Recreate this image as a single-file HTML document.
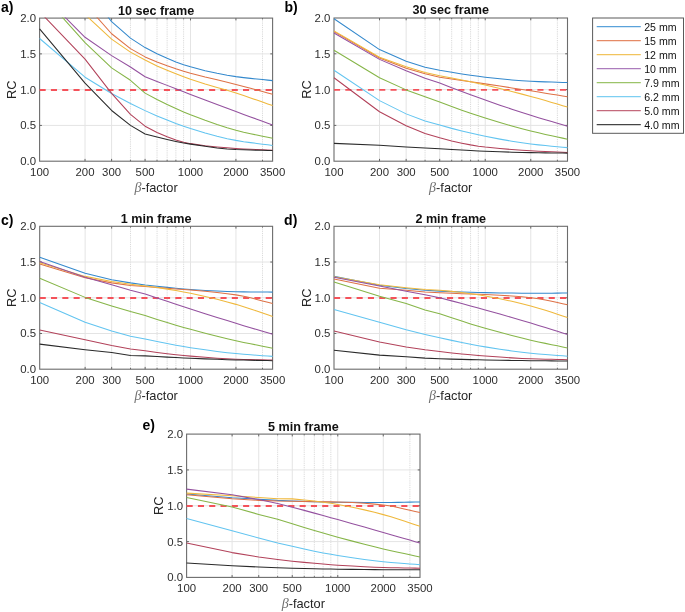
<!DOCTYPE html>
<html><head><meta charset="utf-8"><style>
html,body{margin:0;padding:0;background:#fff;}
body{width:685px;height:612px;overflow:hidden;}
svg{display:block;font-family:"Liberation Sans",sans-serif;}
svg{will-change:transform;}
.gmaj{stroke:#e4e4e4;stroke-width:1;}
.gmin{stroke:#d0d0d0;stroke-width:0.8;stroke-dasharray:1.2 1;}
.cv{fill:none;stroke-width:1.05;stroke-linejoin:round;}
.ref{stroke:#f4525a;stroke-width:1.9;stroke-dasharray:6.1 5.2;}
.tick{stroke:#555;stroke-width:0.9;fill:none;}
.box{fill:none;stroke:#6c6c6c;stroke-width:1.1;}
.tl{font-size:11.4px;fill:#2e2e2e;}
.al{font-size:12.8px;fill:#262626;}
.beta{font-family:"Liberation Serif",serif;font-style:italic;fill:#707070;font-size:14px;}
.ti{font-size:12.6px;font-weight:bold;fill:#111;}
.pl{font-size:14px;font-weight:bold;fill:#000;}
.lbox{fill:#fff;stroke:#5a5a5a;stroke-width:1;}
.lcv{stroke-width:1.1;}
.lt{font-size:10.6px;fill:#111;}
</style></head><body>
<svg width="685" height="612" viewBox="0 0 685 612">
<rect width="685" height="612" fill="#fff"/>
<clipPath id="clipa"><rect x="39.00" y="17.50" width="234.20" height="144.30"/></clipPath>
<line x1="85.03" y1="18.10" x2="85.03" y2="161.20" class="gmaj"/>
<line x1="111.60" y1="18.10" x2="111.60" y2="161.20" class="gmaj"/>
<line x1="145.07" y1="18.10" x2="145.07" y2="161.20" class="gmaj"/>
<line x1="190.50" y1="18.10" x2="190.50" y2="161.20" class="gmaj"/>
<line x1="235.93" y1="18.10" x2="235.93" y2="161.20" class="gmaj"/>
<line x1="130.45" y1="18.10" x2="130.45" y2="161.20" class="gmin"/>
<line x1="157.02" y1="18.10" x2="157.02" y2="161.20" class="gmin"/>
<line x1="167.13" y1="18.10" x2="167.13" y2="161.20" class="gmin"/>
<line x1="175.88" y1="18.10" x2="175.88" y2="161.20" class="gmin"/>
<line x1="183.60" y1="18.10" x2="183.60" y2="161.20" class="gmin"/>
<line x1="262.50" y1="18.10" x2="262.50" y2="161.20" class="gmin"/>
<line x1="39.60" y1="125.42" x2="272.60" y2="125.42" class="gmaj"/>
<line x1="39.60" y1="89.65" x2="272.60" y2="89.65" class="gmaj"/>
<line x1="39.60" y1="53.88" x2="272.60" y2="53.88" class="gmaj"/>
<path d="M85.03,161.20v-2.3M85.03,18.10v2.3M111.60,161.20v-2.3M111.60,18.10v2.3M145.07,161.20v-2.3M145.07,18.10v2.3M190.50,161.20v-2.3M190.50,18.10v2.3M235.93,161.20v-2.3M235.93,18.10v2.3M130.45,161.20v-1.3M130.45,18.10v1.3M157.02,161.20v-1.3M157.02,18.10v1.3M167.13,161.20v-1.3M167.13,18.10v1.3M175.88,161.20v-1.3M175.88,18.10v1.3M183.60,161.20v-1.3M183.60,18.10v1.3M262.50,161.20v-1.3M262.50,18.10v1.3M39.60,125.42h2.3M272.60,125.42h-2.3M39.60,89.65h2.3M272.60,89.65h-2.3M39.60,53.88h2.3M272.60,53.88h-2.3" class="tick"/>
<rect x="39.60" y="18.10" width="233.00" height="143.10" class="box"/>
<g clip-path="url(#clipa)"><line x1="39.60" y1="89.95" x2="272.60" y2="89.95" class="ref"/><polyline points="85.03,-12.67 111.60,21.61 130.45,38.13 145.07,47.59 157.02,53.78 167.13,58.31 175.88,61.91 183.60,64.72 190.50,66.86 205.12,70.68 217.07,73.33 227.17,75.23 235.93,76.61 243.64,77.62 250.55,78.39 256.80,79.02 262.50,79.58 267.74,80.11 272.60,80.62" stroke="#3489cd" class="cv"/><polyline points="85.03,3.79 111.60,33.77 130.45,48.65 145.07,56.90 157.02,62.02 167.13,65.74 175.88,68.72 183.60,71.16 190.50,73.20 205.12,77.04 217.07,79.86 227.17,82.22 235.93,84.39 243.64,86.41 250.55,88.26 256.80,89.95 262.50,91.50 267.74,92.93 272.60,94.24" stroke="#de7146" class="cv"/><polyline points="85.03,14.52 111.60,39.06 130.45,52.16 145.07,59.95 157.02,65.93 167.13,70.31 175.88,73.83 183.60,76.74 190.50,79.20 205.12,83.89 217.07,87.38 227.17,90.34 235.93,93.05 243.64,95.60 250.55,97.95 256.80,100.11 262.50,102.10 267.74,103.92 272.60,105.60" stroke="#efb83c" class="cv"/><polyline points="39.60,-8.37 85.03,37.28 111.60,55.59 130.45,66.97 145.07,76.74 157.02,81.44 167.13,85.38 175.88,88.78 183.60,91.76 190.50,94.41 205.12,99.97 217.07,104.48 227.17,108.27 235.93,111.54 243.64,114.39 250.55,116.92 256.80,119.20 262.50,121.28 267.74,123.19 272.60,124.97" stroke="#94519f" class="cv"/><polyline points="39.60,-8.02 85.03,42.57 111.60,67.90 130.45,80.28 145.07,93.16 157.02,99.44 167.13,104.43 175.88,108.50 183.60,111.93 190.50,114.79 205.12,120.34 217.07,124.56 227.17,127.79 235.93,130.28 243.64,132.19 250.55,133.72 256.80,135.02 262.50,136.18 267.74,137.26 272.60,138.30" stroke="#86b548" class="cv"/><polyline points="39.60,38.49 85.03,77.20 111.60,93.44 130.45,103.53 145.07,110.64 157.02,115.92 167.13,120.07 175.88,123.49 183.60,126.29 190.50,128.57 205.12,132.97 217.07,136.24 227.17,138.64 235.93,140.38 243.64,141.65 250.55,142.62 256.80,143.43 262.50,144.15 267.74,144.82 272.60,145.47" stroke="#62c4f0" class="cv"/><polyline points="39.60,11.66 85.03,59.10 111.60,93.44 130.45,114.41 145.07,126.17 157.02,132.49 167.13,136.71 175.88,139.91 183.60,142.19 190.50,143.64 205.12,145.71 217.07,146.97 227.17,147.82 235.93,148.44 243.64,148.90 250.55,149.25 256.80,149.53 262.50,149.78 267.74,150.01 272.60,150.24" stroke="#b2425a" class="cv"/><polyline points="39.60,28.83 85.03,83.07 111.60,110.47 130.45,125.42 145.07,134.01 157.02,137.10 167.13,139.48 175.88,141.41 183.60,142.94 190.50,144.12 205.12,146.35 217.07,147.95 227.17,148.99 235.93,149.55 243.64,149.84 250.55,150.03 256.80,150.18 262.50,150.30 267.74,150.42 272.60,150.54" stroke="#2a2a2a" class="cv"/></g>
<text x="39.60" y="175.80" text-anchor="middle" class="tl">100</text>
<text x="85.03" y="175.80" text-anchor="middle" class="tl">200</text>
<text x="111.60" y="175.80" text-anchor="middle" class="tl">300</text>
<text x="145.07" y="175.80" text-anchor="middle" class="tl">500</text>
<text x="190.50" y="175.80" text-anchor="middle" class="tl">1000</text>
<text x="235.93" y="175.80" text-anchor="middle" class="tl">2000</text>
<text x="272.60" y="175.80" text-anchor="middle" class="tl">3500</text>
<text x="36.00" y="165.20" text-anchor="end" class="tl">0.0</text>
<text x="36.00" y="129.42" text-anchor="end" class="tl">0.5</text>
<text x="36.00" y="93.65" text-anchor="end" class="tl">1.0</text>
<text x="36.00" y="57.88" text-anchor="end" class="tl">1.5</text>
<text x="36.00" y="22.10" text-anchor="end" class="tl">2.0</text>
<text x="156.10" y="192.20" text-anchor="middle" class="al"><tspan class="beta">β</tspan>-factor</text>
<text transform="translate(16.10,89.65) rotate(-90)" text-anchor="middle" class="al">RC</text>
<text x="156.10" y="14.50" text-anchor="middle" class="ti">10 sec frame</text>
<text x="1.0" y="11.7" class="pl">a)</text>
<clipPath id="clipb"><rect x="333.40" y="17.40" width="234.70" height="144.40"/></clipPath>
<line x1="379.52" y1="18.00" x2="379.52" y2="161.20" class="gmaj"/>
<line x1="406.15" y1="18.00" x2="406.15" y2="161.20" class="gmaj"/>
<line x1="439.70" y1="18.00" x2="439.70" y2="161.20" class="gmaj"/>
<line x1="485.22" y1="18.00" x2="485.22" y2="161.20" class="gmaj"/>
<line x1="530.75" y1="18.00" x2="530.75" y2="161.20" class="gmaj"/>
<line x1="425.05" y1="18.00" x2="425.05" y2="161.20" class="gmin"/>
<line x1="451.68" y1="18.00" x2="451.68" y2="161.20" class="gmin"/>
<line x1="461.80" y1="18.00" x2="461.80" y2="161.20" class="gmin"/>
<line x1="470.57" y1="18.00" x2="470.57" y2="161.20" class="gmin"/>
<line x1="478.30" y1="18.00" x2="478.30" y2="161.20" class="gmin"/>
<line x1="557.38" y1="18.00" x2="557.38" y2="161.20" class="gmin"/>
<line x1="334.00" y1="125.40" x2="567.50" y2="125.40" class="gmaj"/>
<line x1="334.00" y1="89.60" x2="567.50" y2="89.60" class="gmaj"/>
<line x1="334.00" y1="53.80" x2="567.50" y2="53.80" class="gmaj"/>
<path d="M379.52,161.20v-2.3M379.52,18.00v2.3M406.15,161.20v-2.3M406.15,18.00v2.3M439.70,161.20v-2.3M439.70,18.00v2.3M485.22,161.20v-2.3M485.22,18.00v2.3M530.75,161.20v-2.3M530.75,18.00v2.3M425.05,161.20v-1.3M425.05,18.00v1.3M451.68,161.20v-1.3M451.68,18.00v1.3M461.80,161.20v-1.3M461.80,18.00v1.3M470.57,161.20v-1.3M470.57,18.00v1.3M478.30,161.20v-1.3M478.30,18.00v1.3M557.38,161.20v-1.3M557.38,18.00v1.3M334.00,125.40h2.3M567.50,125.40h-2.3M334.00,89.60h2.3M567.50,89.60h-2.3M334.00,53.80h2.3M567.50,53.80h-2.3" class="tick"/>
<rect x="334.00" y="18.00" width="233.50" height="143.20" class="box"/>
<g clip-path="url(#clipb)"><line x1="334.00" y1="89.90" x2="567.50" y2="89.90" class="ref"/><polyline points="334.00,18.72 379.52,49.58 406.15,61.17 425.05,67.19 439.70,70.22 451.68,72.33 461.80,73.94 470.57,75.27 478.30,76.33 485.22,77.18 499.88,78.79 511.85,79.96 521.98,80.77 530.75,81.30 538.48,81.63 545.40,81.88 551.66,82.07 557.38,82.24 562.63,82.40 567.50,82.56" stroke="#3489cd" class="cv"/><polyline points="334.00,31.60 379.52,58.02 406.15,68.19 425.05,73.78 439.70,77.22 451.68,78.94 461.80,80.41 470.57,81.70 478.30,82.84 485.22,83.88 499.88,86.09 511.85,87.92 521.98,89.49 530.75,90.85 538.48,92.07 545.40,93.18 551.66,94.18 557.38,95.10 562.63,95.94 567.50,96.72" stroke="#de7146" class="cv"/><polyline points="334.00,30.89 379.52,57.24 406.15,66.83 425.05,72.42 439.70,75.70 451.68,77.97 461.80,80.02 470.57,81.86 478.30,83.53 485.22,85.08 499.88,88.54 511.85,91.51 521.98,94.12 530.75,96.45 538.48,98.59 545.40,100.58 551.66,102.41 557.38,104.10 562.63,105.65 567.50,107.07" stroke="#efb83c" class="cv"/><polyline points="334.00,33.04 379.52,59.38 406.15,70.70 425.05,78.22 439.70,82.95 451.68,87.64 461.80,91.49 470.57,94.77 478.30,97.61 485.22,100.08 499.88,105.16 511.85,109.19 521.98,112.49 530.75,115.28 538.48,117.65 545.40,119.70 551.66,121.53 557.38,123.19 562.63,124.72 567.50,126.15" stroke="#94519f" class="cv"/><polyline points="334.00,50.22 379.52,77.71 406.15,89.89 425.05,96.83 439.70,102.01 451.68,106.52 461.80,110.15 470.57,113.22 478.30,115.81 485.22,118.03 499.88,122.50 511.85,125.97 521.98,128.73 530.75,130.98 538.48,132.84 545.40,134.39 551.66,135.75 557.38,136.98 562.63,138.12 567.50,139.19" stroke="#86b548" class="cv"/><polyline points="334.00,70.27 379.52,100.63 406.15,113.87 425.05,120.89 439.70,125.09 451.68,128.38 461.80,130.96 470.57,133.09 478.30,134.86 485.22,136.30 499.88,139.12 511.85,141.23 521.98,142.81 530.75,143.99 538.48,144.88 545.40,145.57 551.66,146.16 557.38,146.68 562.63,147.16 567.50,147.63" stroke="#62c4f0" class="cv"/><polyline points="334.00,77.79 379.52,111.72 406.15,125.69 425.05,133.56 439.70,137.83 451.68,141.03 461.80,143.20 470.57,144.88 478.30,146.15 485.22,147.06 499.88,148.53 511.85,149.50 521.98,150.19 530.75,150.73 538.48,151.15 545.40,151.48 551.66,151.75 557.38,152.00 562.63,152.23 567.50,152.45" stroke="#b2425a" class="cv"/><polyline points="334.00,143.37 379.52,145.30 406.15,147.02 425.05,148.10 439.70,148.81 451.68,149.53 461.80,150.08 470.57,150.54 478.30,150.91 485.22,151.20 499.88,151.76 511.85,152.17 521.98,152.45 530.75,152.64 538.48,152.77 545.40,152.86 551.66,152.93 557.38,152.99 562.63,153.05 567.50,153.11" stroke="#2a2a2a" class="cv"/></g>
<text x="334.00" y="175.80" text-anchor="middle" class="tl">100</text>
<text x="379.52" y="175.80" text-anchor="middle" class="tl">200</text>
<text x="406.15" y="175.80" text-anchor="middle" class="tl">300</text>
<text x="439.70" y="175.80" text-anchor="middle" class="tl">500</text>
<text x="485.22" y="175.80" text-anchor="middle" class="tl">1000</text>
<text x="530.75" y="175.80" text-anchor="middle" class="tl">2000</text>
<text x="567.50" y="175.80" text-anchor="middle" class="tl">3500</text>
<text x="330.40" y="165.20" text-anchor="end" class="tl">0.0</text>
<text x="330.40" y="129.40" text-anchor="end" class="tl">0.5</text>
<text x="330.40" y="93.60" text-anchor="end" class="tl">1.0</text>
<text x="330.40" y="57.80" text-anchor="end" class="tl">1.5</text>
<text x="330.40" y="22.00" text-anchor="end" class="tl">2.0</text>
<text x="450.75" y="192.20" text-anchor="middle" class="al"><tspan class="beta">β</tspan>-factor</text>
<text transform="translate(310.50,89.60) rotate(-90)" text-anchor="middle" class="al">RC</text>
<text x="450.75" y="14.40" text-anchor="middle" class="ti">30 sec frame</text>
<text x="284.4" y="11.9" class="pl">b)</text>
<clipPath id="clipc"><rect x="39.10" y="225.70" width="234.10" height="144.10"/></clipPath>
<line x1="85.11" y1="226.30" x2="85.11" y2="369.20" class="gmaj"/>
<line x1="111.67" y1="226.30" x2="111.67" y2="369.20" class="gmaj"/>
<line x1="145.13" y1="226.30" x2="145.13" y2="369.20" class="gmaj"/>
<line x1="190.54" y1="226.30" x2="190.54" y2="369.20" class="gmaj"/>
<line x1="235.94" y1="226.30" x2="235.94" y2="369.20" class="gmaj"/>
<line x1="130.51" y1="226.30" x2="130.51" y2="369.20" class="gmin"/>
<line x1="157.07" y1="226.30" x2="157.07" y2="369.20" class="gmin"/>
<line x1="167.17" y1="226.30" x2="167.17" y2="369.20" class="gmin"/>
<line x1="175.92" y1="226.30" x2="175.92" y2="369.20" class="gmin"/>
<line x1="183.63" y1="226.30" x2="183.63" y2="369.20" class="gmin"/>
<line x1="262.50" y1="226.30" x2="262.50" y2="369.20" class="gmin"/>
<line x1="39.70" y1="333.48" x2="272.60" y2="333.48" class="gmaj"/>
<line x1="39.70" y1="297.75" x2="272.60" y2="297.75" class="gmaj"/>
<line x1="39.70" y1="262.02" x2="272.60" y2="262.02" class="gmaj"/>
<path d="M85.11,369.20v-2.3M85.11,226.30v2.3M111.67,369.20v-2.3M111.67,226.30v2.3M145.13,369.20v-2.3M145.13,226.30v2.3M190.54,369.20v-2.3M190.54,226.30v2.3M235.94,369.20v-2.3M235.94,226.30v2.3M130.51,369.20v-1.3M130.51,226.30v1.3M157.07,369.20v-1.3M157.07,226.30v1.3M167.17,369.20v-1.3M167.17,226.30v1.3M175.92,369.20v-1.3M175.92,226.30v1.3M183.63,369.20v-1.3M183.63,226.30v1.3M262.50,369.20v-1.3M262.50,226.30v1.3M39.70,333.48h2.3M272.60,333.48h-2.3M39.70,297.75h2.3M272.60,297.75h-2.3M39.70,262.02h2.3M272.60,262.02h-2.3" class="tick"/>
<rect x="39.70" y="226.30" width="232.90" height="142.90" class="box"/>
<g clip-path="url(#clipc)"><line x1="39.70" y1="298.05" x2="272.60" y2="298.05" class="ref"/><polyline points="39.70,257.17 85.11,273.24 111.67,279.74 130.51,282.89 145.13,284.96 157.07,286.34 167.17,287.38 175.92,288.23 183.63,288.91 190.54,289.42 205.15,290.40 217.10,291.10 227.19,291.55 235.94,291.78 243.66,291.88 250.56,291.96 256.80,292.01 262.50,292.05 267.75,292.09 272.60,292.14" stroke="#3489cd" class="cv"/><polyline points="39.70,263.95 85.11,277.67 111.67,282.89 130.51,285.46 145.13,286.52 157.07,287.58 167.17,288.32 175.92,288.90 183.63,289.43 190.54,289.97 205.15,291.26 217.10,292.47 227.19,293.66 235.94,294.88 243.66,296.28 250.56,297.85 256.80,299.42 262.50,300.91 267.75,302.25 272.60,303.43" stroke="#de7146" class="cv"/><polyline points="39.70,262.74 85.11,276.39 111.67,281.46 130.51,284.25 145.13,286.01 157.07,287.57 167.17,289.12 175.92,290.58 183.63,291.97 190.54,293.28 205.15,296.41 217.10,299.28 227.19,301.92 235.94,304.37 243.66,306.72 250.56,308.97 256.80,311.07 262.50,313.02 267.75,314.80 272.60,316.41" stroke="#efb83c" class="cv"/><polyline points="39.70,261.45 85.11,277.24 111.67,284.67 130.51,290.25 145.13,293.96 157.07,297.99 167.17,301.35 175.92,304.24 183.63,306.77 190.54,309.00 205.15,313.68 217.10,317.46 227.19,320.61 235.94,323.31 243.66,325.66 250.56,327.74 256.80,329.60 262.50,331.30 267.75,332.87 272.60,334.32" stroke="#94519f" class="cv"/><polyline points="39.70,278.17 85.11,297.39 111.67,305.97 130.51,311.61 145.13,315.52 157.07,319.38 167.17,322.50 175.92,325.13 183.63,327.38 190.54,329.31 205.15,333.22 217.10,336.26 227.19,338.71 235.94,340.72 243.66,342.40 250.56,343.81 256.80,345.06 262.50,346.19 267.75,347.23 272.60,348.21" stroke="#86b548" class="cv"/><polyline points="39.70,302.47 85.11,322.26 111.67,330.90 130.51,336.19 145.13,339.04 157.07,341.58 167.17,343.56 175.92,345.21 183.63,346.57 190.54,347.68 205.15,349.85 217.10,351.47 227.19,352.69 235.94,353.59 243.66,354.27 250.56,354.81 256.80,355.25 262.50,355.65 267.75,356.02 272.60,356.38" stroke="#62c4f0" class="cv"/><polyline points="39.70,330.05 85.11,339.69 111.67,345.48 130.51,348.98 145.13,350.82 157.07,352.43 167.17,353.66 175.92,354.66 183.63,355.48 190.54,356.11 205.15,357.32 217.10,358.21 227.19,358.81 235.94,359.20 243.66,359.44 250.56,359.61 256.80,359.74 262.50,359.86 267.75,359.97 272.60,360.08" stroke="#b2425a" class="cv"/><polyline points="39.70,344.12 85.11,349.69 111.67,352.48 130.51,355.41 145.13,355.89 157.07,356.60 167.17,357.14 175.92,357.60 183.63,357.97 190.54,358.28 205.15,358.88 217.10,359.33 227.19,359.66 235.94,359.91 243.66,360.10 250.56,360.24 256.80,360.37 262.50,360.48 267.75,360.58 272.60,360.68" stroke="#2a2a2a" class="cv"/></g>
<text x="39.70" y="383.80" text-anchor="middle" class="tl">100</text>
<text x="85.11" y="383.80" text-anchor="middle" class="tl">200</text>
<text x="111.67" y="383.80" text-anchor="middle" class="tl">300</text>
<text x="145.13" y="383.80" text-anchor="middle" class="tl">500</text>
<text x="190.54" y="383.80" text-anchor="middle" class="tl">1000</text>
<text x="235.94" y="383.80" text-anchor="middle" class="tl">2000</text>
<text x="272.60" y="383.80" text-anchor="middle" class="tl">3500</text>
<text x="36.10" y="373.20" text-anchor="end" class="tl">0.0</text>
<text x="36.10" y="337.48" text-anchor="end" class="tl">0.5</text>
<text x="36.10" y="301.75" text-anchor="end" class="tl">1.0</text>
<text x="36.10" y="266.02" text-anchor="end" class="tl">1.5</text>
<text x="36.10" y="230.30" text-anchor="end" class="tl">2.0</text>
<text x="156.15" y="400.20" text-anchor="middle" class="al"><tspan class="beta">β</tspan>-factor</text>
<text transform="translate(16.20,297.75) rotate(-90)" text-anchor="middle" class="al">RC</text>
<text x="156.15" y="222.70" text-anchor="middle" class="ti">1 min frame</text>
<text x="0.9" y="224.6" class="pl">c)</text>
<clipPath id="clipd"><rect x="333.40" y="225.70" width="234.70" height="144.10"/></clipPath>
<line x1="379.52" y1="226.30" x2="379.52" y2="369.20" class="gmaj"/>
<line x1="406.15" y1="226.30" x2="406.15" y2="369.20" class="gmaj"/>
<line x1="439.70" y1="226.30" x2="439.70" y2="369.20" class="gmaj"/>
<line x1="485.22" y1="226.30" x2="485.22" y2="369.20" class="gmaj"/>
<line x1="530.75" y1="226.30" x2="530.75" y2="369.20" class="gmaj"/>
<line x1="425.05" y1="226.30" x2="425.05" y2="369.20" class="gmin"/>
<line x1="451.68" y1="226.30" x2="451.68" y2="369.20" class="gmin"/>
<line x1="461.80" y1="226.30" x2="461.80" y2="369.20" class="gmin"/>
<line x1="470.57" y1="226.30" x2="470.57" y2="369.20" class="gmin"/>
<line x1="478.30" y1="226.30" x2="478.30" y2="369.20" class="gmin"/>
<line x1="557.38" y1="226.30" x2="557.38" y2="369.20" class="gmin"/>
<line x1="334.00" y1="333.48" x2="567.50" y2="333.48" class="gmaj"/>
<line x1="334.00" y1="297.75" x2="567.50" y2="297.75" class="gmaj"/>
<line x1="334.00" y1="262.02" x2="567.50" y2="262.02" class="gmaj"/>
<path d="M379.52,369.20v-2.3M379.52,226.30v2.3M406.15,369.20v-2.3M406.15,226.30v2.3M439.70,369.20v-2.3M439.70,226.30v2.3M485.22,369.20v-2.3M485.22,226.30v2.3M530.75,369.20v-2.3M530.75,226.30v2.3M425.05,369.20v-1.3M425.05,226.30v1.3M451.68,369.20v-1.3M451.68,226.30v1.3M461.80,369.20v-1.3M461.80,226.30v1.3M470.57,369.20v-1.3M470.57,226.30v1.3M478.30,369.20v-1.3M478.30,226.30v1.3M557.38,369.20v-1.3M557.38,226.30v1.3M334.00,333.48h2.3M567.50,333.48h-2.3M334.00,297.75h2.3M567.50,297.75h-2.3M334.00,262.02h2.3M567.50,262.02h-2.3" class="tick"/>
<rect x="334.00" y="226.30" width="233.50" height="142.90" class="box"/>
<g clip-path="url(#clipd)"><line x1="334.00" y1="298.05" x2="567.50" y2="298.05" class="ref"/><polyline points="334.00,276.24 379.52,285.17 406.15,288.46 425.05,290.25 439.70,291.14 451.68,291.61 461.80,291.97 470.57,292.25 478.30,292.47 485.22,292.62 499.88,292.90 511.85,293.09 521.98,293.19 530.75,293.22 538.48,293.21 545.40,293.18 551.66,293.15 557.38,293.12 562.63,293.09 567.50,293.06" stroke="#3489cd" class="cv"/><polyline points="334.00,279.03 379.52,288.18 406.15,290.25 425.05,291.96 439.70,292.78 451.68,293.33 461.80,293.68 470.57,293.94 478.30,294.18 485.22,294.45 499.88,295.20 511.85,296.00 521.98,296.82 530.75,297.68 538.48,298.73 545.40,300.01 551.66,301.31 557.38,302.55 562.63,303.67 567.50,304.64" stroke="#de7146" class="cv"/><polyline points="334.00,276.74 379.52,284.67 406.15,287.75 425.05,289.53 439.70,290.35 451.68,291.38 461.80,292.52 470.57,293.68 478.30,294.83 485.22,295.94 499.88,298.70 511.85,301.34 521.98,303.79 530.75,306.03 538.48,308.19 545.40,310.32 551.66,312.33 557.38,314.20 562.63,315.91 567.50,317.45" stroke="#efb83c" class="cv"/><polyline points="334.00,277.24 379.52,286.03 406.15,291.25 425.05,294.75 439.70,297.76 451.68,300.87 461.80,303.56 470.57,305.92 478.30,308.03 485.22,309.94 499.88,314.07 511.85,317.52 521.98,320.48 530.75,323.08 538.48,325.41 545.40,327.54 551.66,329.48 557.38,331.25 562.63,332.89 567.50,334.39" stroke="#94519f" class="cv"/><polyline points="334.00,281.96 379.52,296.32 406.15,303.47 425.05,309.97 439.70,313.79 451.68,317.84 461.80,321.11 470.57,323.88 478.30,326.23 485.22,328.25 499.88,332.34 511.85,335.52 521.98,338.07 530.75,340.17 538.48,341.91 545.40,343.38 551.66,344.67 557.38,345.83 562.63,346.91 567.50,347.93" stroke="#86b548" class="cv"/><polyline points="334.00,309.47 379.52,322.26 406.15,329.76 425.05,334.40 439.70,337.69 451.68,340.38 461.80,342.49 470.57,344.24 478.30,345.68 485.22,346.87 499.88,349.18 511.85,350.91 521.98,352.21 530.75,353.19 538.48,353.92 545.40,354.50 551.66,354.98 557.38,355.41 562.63,355.82 567.50,356.20" stroke="#62c4f0" class="cv"/><polyline points="334.00,330.90 379.52,342.05 406.15,347.05 425.05,349.84 439.70,351.58 451.68,352.92 461.80,353.96 470.57,354.81 478.30,355.50 485.22,356.05 499.88,357.10 511.85,357.87 521.98,358.41 530.75,358.77 538.48,359.01 545.40,359.19 551.66,359.33 557.38,359.46 562.63,359.58 567.50,359.69" stroke="#b2425a" class="cv"/><polyline points="334.00,350.19 379.52,355.12 406.15,356.84 425.05,358.13 439.70,358.76 451.68,359.11 461.80,359.38 470.57,359.61 478.30,359.79 485.22,359.93 499.88,360.22 511.85,360.43 521.98,360.58 530.75,360.68 538.48,360.76 545.40,360.82 551.66,360.86 557.38,360.90 562.63,360.94 567.50,360.98" stroke="#2a2a2a" class="cv"/></g>
<text x="334.00" y="383.80" text-anchor="middle" class="tl">100</text>
<text x="379.52" y="383.80" text-anchor="middle" class="tl">200</text>
<text x="406.15" y="383.80" text-anchor="middle" class="tl">300</text>
<text x="439.70" y="383.80" text-anchor="middle" class="tl">500</text>
<text x="485.22" y="383.80" text-anchor="middle" class="tl">1000</text>
<text x="530.75" y="383.80" text-anchor="middle" class="tl">2000</text>
<text x="567.50" y="383.80" text-anchor="middle" class="tl">3500</text>
<text x="330.40" y="373.20" text-anchor="end" class="tl">0.0</text>
<text x="330.40" y="337.48" text-anchor="end" class="tl">0.5</text>
<text x="330.40" y="301.75" text-anchor="end" class="tl">1.0</text>
<text x="330.40" y="266.02" text-anchor="end" class="tl">1.5</text>
<text x="330.40" y="230.30" text-anchor="end" class="tl">2.0</text>
<text x="450.75" y="400.20" text-anchor="middle" class="al"><tspan class="beta">β</tspan>-factor</text>
<text transform="translate(310.50,297.75) rotate(-90)" text-anchor="middle" class="al">RC</text>
<text x="450.75" y="222.70" text-anchor="middle" class="ti">2 min frame</text>
<text x="284.1" y="224.7" class="pl">d)</text>
<clipPath id="clipe"><rect x="186.00" y="433.50" width="234.60" height="144.50"/></clipPath>
<line x1="232.10" y1="434.10" x2="232.10" y2="577.40" class="gmaj"/>
<line x1="258.72" y1="434.10" x2="258.72" y2="577.40" class="gmaj"/>
<line x1="292.26" y1="434.10" x2="292.26" y2="577.40" class="gmaj"/>
<line x1="337.76" y1="434.10" x2="337.76" y2="577.40" class="gmaj"/>
<line x1="383.26" y1="434.10" x2="383.26" y2="577.40" class="gmaj"/>
<line x1="277.61" y1="434.10" x2="277.61" y2="577.40" class="gmin"/>
<line x1="304.22" y1="434.10" x2="304.22" y2="577.40" class="gmin"/>
<line x1="314.34" y1="434.10" x2="314.34" y2="577.40" class="gmin"/>
<line x1="323.11" y1="434.10" x2="323.11" y2="577.40" class="gmin"/>
<line x1="330.84" y1="434.10" x2="330.84" y2="577.40" class="gmin"/>
<line x1="409.88" y1="434.10" x2="409.88" y2="577.40" class="gmin"/>
<line x1="186.60" y1="541.58" x2="420.00" y2="541.58" class="gmaj"/>
<line x1="186.60" y1="505.75" x2="420.00" y2="505.75" class="gmaj"/>
<line x1="186.60" y1="469.93" x2="420.00" y2="469.93" class="gmaj"/>
<path d="M232.10,577.40v-2.3M232.10,434.10v2.3M258.72,577.40v-2.3M258.72,434.10v2.3M292.26,577.40v-2.3M292.26,434.10v2.3M337.76,577.40v-2.3M337.76,434.10v2.3M383.26,577.40v-2.3M383.26,434.10v2.3M277.61,577.40v-1.3M277.61,434.10v1.3M304.22,577.40v-1.3M304.22,434.10v1.3M314.34,577.40v-1.3M314.34,434.10v1.3M323.11,577.40v-1.3M323.11,434.10v1.3M330.84,577.40v-1.3M330.84,434.10v1.3M409.88,577.40v-1.3M409.88,434.10v1.3M186.60,541.58h2.3M420.00,541.58h-2.3M186.60,505.75h2.3M420.00,505.75h-2.3M186.60,469.93h2.3M420.00,469.93h-2.3" class="tick"/>
<rect x="186.60" y="434.10" width="233.40" height="143.30" class="box"/>
<g clip-path="url(#clipe)"><line x1="186.60" y1="506.05" x2="420.00" y2="506.05" class="ref"/><polyline points="186.60,494.00 232.10,497.80 258.72,499.23 277.61,500.38 292.26,500.92 304.22,501.38 314.34,501.71 323.11,501.97 330.84,502.16 337.76,502.26 352.41,502.39 364.38,502.47 374.50,502.51 383.26,502.52 390.99,502.48 397.91,502.37 404.17,502.25 409.88,502.13 415.13,502.03 420.00,501.94" stroke="#3489cd" class="cv"/><polyline points="186.60,494.72 232.10,498.73 258.72,500.38 277.61,501.02 292.26,501.19 304.22,501.51 314.34,501.67 323.11,501.78 330.84,501.89 337.76,502.02 352.41,502.58 364.38,503.32 374.50,504.13 383.26,504.96 390.99,506.05 397.91,507.44 404.17,508.89 409.88,510.28 415.13,511.54 420.00,512.61" stroke="#de7146" class="cv"/><polyline points="186.60,493.14 232.10,495.72 258.72,497.51 277.61,498.73 292.26,498.89 304.22,499.90 314.34,501.02 323.11,502.18 330.84,503.32 337.76,504.43 352.41,507.20 364.38,509.87 374.50,512.35 383.26,514.62 390.99,516.81 397.91,518.97 404.17,521.02 409.88,522.93 415.13,524.67 420.00,526.23" stroke="#efb83c" class="cv"/><polyline points="186.60,489.13 232.10,494.72 258.72,499.59 277.61,503.39 292.26,507.14 304.22,510.37 314.34,513.12 323.11,515.53 330.84,517.66 337.76,519.57 352.41,523.67 364.38,527.04 374.50,529.90 383.26,532.40 390.99,534.63 397.91,536.63 404.17,538.45 409.88,540.11 415.13,541.64 420.00,543.06" stroke="#94519f" class="cv"/><polyline points="186.60,497.51 232.10,506.90 258.72,514.42 277.61,519.36 292.26,523.69 304.22,527.42 314.34,530.48 323.11,533.05 330.84,535.27 337.76,537.20 352.41,541.12 364.38,544.23 374.50,546.77 383.26,548.89 390.99,550.67 397.91,552.20 404.17,553.56 409.88,554.79 415.13,555.92 420.00,556.99" stroke="#86b548" class="cv"/><polyline points="186.60,518.43 232.10,530.68 258.72,537.99 277.61,543.01 292.26,546.33 304.22,549.04 314.34,551.14 323.11,552.89 330.84,554.34 337.76,555.52 352.41,557.82 364.38,559.54 374.50,560.82 383.26,561.78 390.99,562.49 397.91,563.05 404.17,563.52 409.88,563.93 415.13,564.32 420.00,564.69" stroke="#62c4f0" class="cv"/><polyline points="186.60,543.01 232.10,552.61 258.72,556.98 277.61,559.42 292.26,561.15 304.22,562.37 314.34,563.30 323.11,564.07 330.84,564.68 337.76,565.17 352.41,566.09 364.38,566.77 374.50,567.23 383.26,567.53 390.99,567.72 397.91,567.85 404.17,567.96 409.88,568.05 415.13,568.14 420.00,568.23" stroke="#b2425a" class="cv"/><polyline points="186.60,562.93 232.10,565.72 258.72,567.01 277.61,567.80 292.26,568.34 304.22,568.60 314.34,568.79 323.11,568.96 330.84,569.09 337.76,569.19 352.41,569.39 364.38,569.53 374.50,569.63 383.26,569.69 390.99,569.73 397.91,569.76 404.17,569.78 409.88,569.80 415.13,569.81 420.00,569.83" stroke="#2a2a2a" class="cv"/></g>
<text x="186.60" y="592.00" text-anchor="middle" class="tl">100</text>
<text x="232.10" y="592.00" text-anchor="middle" class="tl">200</text>
<text x="258.72" y="592.00" text-anchor="middle" class="tl">300</text>
<text x="292.26" y="592.00" text-anchor="middle" class="tl">500</text>
<text x="337.76" y="592.00" text-anchor="middle" class="tl">1000</text>
<text x="383.26" y="592.00" text-anchor="middle" class="tl">2000</text>
<text x="420.00" y="592.00" text-anchor="middle" class="tl">3500</text>
<text x="183.00" y="581.40" text-anchor="end" class="tl">0.0</text>
<text x="183.00" y="545.58" text-anchor="end" class="tl">0.5</text>
<text x="183.00" y="509.75" text-anchor="end" class="tl">1.0</text>
<text x="183.00" y="473.93" text-anchor="end" class="tl">1.5</text>
<text x="183.00" y="438.10" text-anchor="end" class="tl">2.0</text>
<text x="303.30" y="608.40" text-anchor="middle" class="al"><tspan class="beta">β</tspan>-factor</text>
<text transform="translate(163.10,505.75) rotate(-90)" text-anchor="middle" class="al">RC</text>
<text x="303.30" y="430.50" text-anchor="middle" class="ti">5 min frame</text>
<text x="142.5" y="430.4" class="pl">e)</text>
<rect x="592.6" y="18.0" width="90.90" height="115.30" class="lbox"/>
<line x1="596.7" y1="26.60" x2="640.8" y2="26.60" stroke="#5aa2da" class="lcv"/>
<text x="644.2" y="30.50" class="lt">25 mm</text>
<line x1="596.7" y1="40.60" x2="640.8" y2="40.60" stroke="#e58a66" class="lcv"/>
<text x="644.2" y="44.50" class="lt">15 mm</text>
<line x1="596.7" y1="54.60" x2="640.8" y2="54.60" stroke="#f1c45e" class="lcv"/>
<text x="644.2" y="58.50" class="lt">12 mm</text>
<line x1="596.7" y1="68.60" x2="640.8" y2="68.60" stroke="#ac7cbd" class="lcv"/>
<text x="644.2" y="72.50" class="lt">10 mm</text>
<line x1="596.7" y1="82.60" x2="640.8" y2="82.60" stroke="#9cc46a" class="lcv"/>
<text x="644.2" y="86.50" class="lt">7.9 mm</text>
<line x1="596.7" y1="96.60" x2="640.8" y2="96.60" stroke="#7dcff2" class="lcv"/>
<text x="644.2" y="100.50" class="lt">6.2 mm</text>
<line x1="596.7" y1="110.60" x2="640.8" y2="110.60" stroke="#c46a7c" class="lcv"/>
<text x="644.2" y="114.50" class="lt">5.0 mm</text>
<line x1="596.7" y1="124.60" x2="640.8" y2="124.60" stroke="#454545" class="lcv"/>
<text x="644.2" y="128.50" class="lt">4.0 mm</text>
</svg>
</body></html>
